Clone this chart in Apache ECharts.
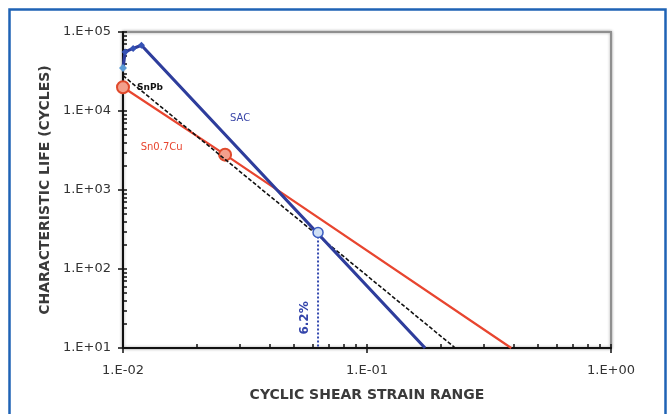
<!DOCTYPE html>
<html><head><meta charset="utf-8">
<script src="https://cdn.jsdelivr.net/npm/echarts@6/dist/echarts.min.js"></script>
<style>html,body{margin:0;padding:0;background:#fff}#c{width:670px;height:414px}</style>
</head><body><div id="c"></div>
<script>
// Data
const sacX = [0.01, 0.0102, 0.011, 0.0119, 0.173];
const sacY = [35000, 56000, 62000, 68000, 10];
const snpbX = [0.01, 0.23];
const snpbY = [28000, 10];
const cuX = [0.01, 0.0262, 0.39];
const cuY = [20000, 2800, 10];
const markX = [0.063, 0.063];
const markY = [290, 10];
const xMajor = [0.01, 0.1, 1];
const yMajor = [10, 100, 1000, 10000, 100000];
const xMinor = [0.02,0.03,0.04,0.05,0.06,0.07,0.08,0.09,0.2,0.3,0.4,0.5,0.6,0.7,0.8,0.9];
const yMinor = [20,30,40,50,60,70,80,90,200,300,400,500,600,700,800,900,2000,3000,4000,5000,6000,7000,8000,9000,20000,30000,40000,50000,60000,70000,80000,90000];
const seriesNames = ['SAC', 'SnPb', 'Sn0.7Cu'];
const markLabel = '6.2%';

function fmt(v) {
  const e = Math.round(Math.log10(v));
  const s = e < 0 ? '-' : '+';
  const a = Math.abs(e);
  return '1.E' + s + (a < 10 ? '0' + a : a);
}
function pairs(xs, ys) { return xs.map((x, i) => [x, ys[i]]); }

const FONT = 'DejaVu Sans';
const chart = echarts.init(document.getElementById('c'));

const sacData = pairs(sacX, sacY).map((p, i) => ({
  value: p,
  symbol: i === sacX.length - 1 ? 'none' : 'diamond',
  symbolSize: i === 0 ? 8 : 7,
  itemStyle: { color: i === 0 ? '#5b9bd5' : '#3552b5' }
}));
const cuData = pairs(cuX, cuY).map((p, i) => ({
  value: p,
  symbol: i === cuX.length - 1 ? 'none' : 'circle'
}));
const markData = pairs(markX, markY).map((p, i) => ({
  value: p,
  symbol: i === 0 ? 'circle' : 'none'
}));

function textPoint(coord, text, color, size, weight, rotate) {
  return {
    coord: coord, symbol: 'circle', symbolSize: 0,
    label: { show: true, position: 'inside', formatter: text, color: color,
      fontFamily: FONT, fontSize: size, fontWeight: weight, rotate: rotate || 0 }
  };
}

const axisCommonX = {
  type: 'log', logBase: 10, min: 0.01, max: 1, gridIndex: 0, position: 'bottom'
};
const axisCommonY = {
  type: 'log', logBase: 10, min: 10, max: 100000, gridIndex: 0, position: 'left'
};
const titleStyle = { fontFamily: FONT, fontSize: 14, fontWeight: 'bold', color: '#3a3a3a' };
const tickLabelStyle = { fontFamily: FONT, fontSize: 13, color: '#333' };

chart.setOption({
  animation: false,
  backgroundColor: '#fff',
  graphic: [{
    type: 'rect',
    shape: { x: 9.5, y: 9.5, width: 656, height: 420 },
    style: { fill: 'none', stroke: '#1f63b5', lineWidth: 2.5 },
    z: 100
  }],
  grid: {
    left: 123, top: 32, right: 59, bottom: 66,
    show: true, borderColor: '#8f8f8f', borderWidth: 2,
    shadowColor: 'rgba(0,0,0,0.35)', shadowBlur: 3, backgroundColor: '#fff'
  },
  xAxis: [
    Object.assign({}, axisCommonX, {
      name: 'CYCLIC SHEAR STRAIN RANGE', nameLocation: 'middle', nameGap: 40,
      nameTextStyle: titleStyle,
      axisLine: { show: true, lineStyle: { color: '#111', width: 2 } },
      axisTick: { show: true, inside: true, length: 4, customValues: xMinor.concat(xMajor),
        lineStyle: { color: '#111', width: 1.5 } },
      axisLabel: Object.assign({ show: true, customValues: xMajor, formatter: fmt, margin: 16 }, tickLabelStyle),
      splitLine: { show: false }
    }),
    Object.assign({}, axisCommonX, {
      axisLine: { show: false },
      axisTick: { show: true, inside: false, length: 5, customValues: xMajor,
        lineStyle: { color: '#111', width: 1.5 } },
      axisLabel: { show: false },
      splitLine: { show: false }
    })
  ],
  yAxis: [
    Object.assign({}, axisCommonY, {
      name: 'CHARACTERISTIC LIFE (CYCLES)', nameLocation: 'middle', nameGap: 67,
      nameTextStyle: titleStyle,
      axisLine: { show: true, lineStyle: { color: '#111', width: 2 } },
      axisTick: { show: true, inside: true, length: 4, customValues: yMinor.concat(yMajor),
        lineStyle: { color: '#111', width: 1.5 } },
      axisLabel: Object.assign({ show: true, customValues: yMajor, formatter: fmt, margin: 12 }, tickLabelStyle),
      splitLine: { show: false }
    }),
    Object.assign({}, axisCommonY, {
      axisLine: { show: false },
      axisTick: { show: true, inside: false, length: 5, customValues: yMajor,
        lineStyle: { color: '#111', width: 1.5 } },
      axisLabel: { show: false },
      splitLine: { show: false }
    })
  ],
  series: [
    {
      name: seriesNames[2], type: 'line', data: cuData, z: 3,
      lineStyle: { color: '#e8452f', width: 2.2 },
      itemStyle: { color: '#f3a08c', borderColor: '#e04a2c', borderWidth: 2 },
      symbolSize: 12,
      markPoint: { data: [textPoint([0.0144, 3500], seriesNames[2], '#e8452f', 10, 'normal')] }
    },
    {
      name: seriesNames[1], type: 'line', data: pairs(snpbX, snpbY), z: 4,
      symbol: 'none',
      lineStyle: { color: '#111', width: 1.6, type: [4, 2] },
      markPoint: { data: [textPoint([0.0129, 19500], seriesNames[1], '#111', 9, 'bold')] }
    },
    {
      name: seriesNames[0], type: 'line', data: sacData, z: 5,
      lineStyle: { color: '#2e3d9c', width: 3.2 },
      markPoint: { data: [textPoint([0.0302, 8100], seriesNames[0], '#3b47a8', 10, 'normal')] }
    },
    {
      name: markLabel, type: 'line', data: markData, z: 6,
      lineStyle: { color: '#3349b0', width: 2, type: [2, 2] },
      itemStyle: { color: '#cfe0f5', borderColor: '#3a5cc0', borderWidth: 1.5 },
      symbolSize: 10,
      markPoint: { data: [textPoint([0.0557, 24], markLabel, '#3344aa', 12, 'bold', 90)] }
    }
  ]
});
</script>
</body></html>
